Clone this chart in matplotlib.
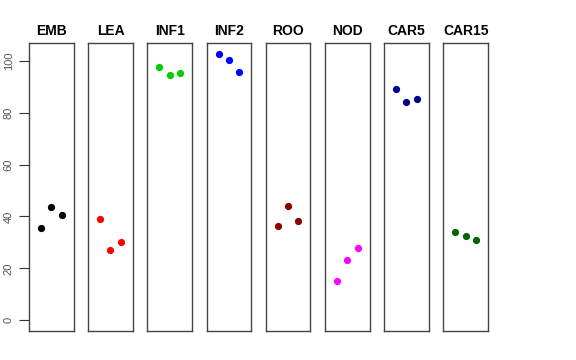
import matplotlib
matplotlib.use("Agg")
import matplotlib.pyplot as plt

plt.rcParams['font.family'] = ['Liberation Sans', 'DejaVu Sans']

groups = ['EMB', 'LEA', 'INF1', 'INF2', 'ROO', 'NOD', 'CAR5', 'CAR15']
colors = ['black', 'red', '#00CD00', 'blue', '#8B0000', 'magenta', '#00008B', '#006400']

emb = [35.7, 43.7, 40.7]
lea = [39.1, 27.2, 30.2]
inf1 = [97.5, 94.5, 95.1]
inf2 = [102.7, 100.2, 95.6]
roo = [36.2, 44.1, 38.2]
nod = [15.2, 23.1, 27.8]
car5 = [89.2, 84.2, 85.1]
car15 = [33.9, 32.4, 31.1]
values = [emb, lea, inf1, inf2, roo, nod, car5, car15]

reps = [1, 2, 3]
yticks = [0, 20, 40, 60, 80, 100]

W, H = 576, 360
fig = plt.figure(figsize=(W / 100, H / 100), dpi=100)

ymax = max(max(v) for v in values)
pad = 0.04 * ymax
left0, step, pw = 29, 59.2, 44.5
top, bottom = 43, 331

for i, (name, col, vals) in enumerate(zip(groups, colors, values)):
    ax = fig.add_axes([(left0 + i * step) / W, (H - bottom) / H, pw / W, (bottom - top) / H])
    ax.plot(reps, vals, 'o', color=col, markersize=5.2, markeredgewidth=0)
    ax.set_xlim(-0.16, 4.16)
    ax.set_ylim(-pad, ymax + pad)
    ax.set_xticks([])
    for s in ax.spines.values():
        s.set_color('#444444')
        s.set_linewidth(1.0)
    ax.set_title(name, fontsize=10, fontweight='bold', pad=6)
    if i == 0:
        ax.set_yticks(yticks)
        ax.tick_params(axis='y', length=7, width=0.8, colors='#333333', labelsize=8, pad=4)
        for lb in ax.get_yticklabels():
            lb.set_rotation(90)
            lb.set_va('center')
            lb.set_color('#555555')
    else:
        ax.set_yticks([])

fig.savefig('out.png', dpi=100)
